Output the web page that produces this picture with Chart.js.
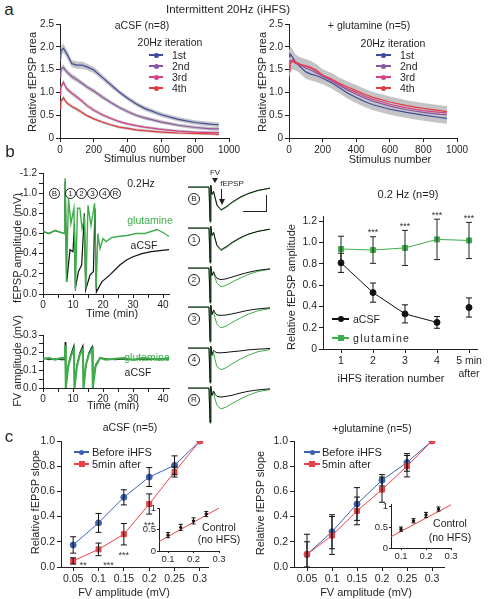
<!DOCTYPE html>
<html><head><meta charset="utf-8">
<script src="https://cdn.jsdelivr.net/npm/chart.js@4.4.0/dist/chart.umd.min.js"></script>
<style>
html,body{margin:0;padding:0;background:#fff;overflow:hidden;}
#root{position:relative;width:488px;height:599px;overflow:hidden;font-family:"Liberation Sans",Arial,sans-serif;color:#222;background:#fff;}
canvas{position:absolute;}
.t{position:absolute;white-space:nowrap;font-weight:normal;text-align:center;}
.circ{position:absolute;border:1px solid #222;border-radius:50%;text-align:center;font-size:8px;box-sizing:border-box;}
.ln{position:absolute;}
</style>
</head><body><div id="root"></div>
<script>
// ================= DATA =================
// Panel a : relative fEPSP area vs stimulus number
const stimNumbers = [0, 5, 20, 40, 70, 100, 130, 160, 200, 250, 300, 350, 400, 450, 500, 600, 700, 800, 900, 940];
const iterNames = ['1st', '2nd', '3rd', '4th'];
const aCSF_1st = [1.75, 1.90, 1.97, 1.85, 1.63, 1.60, 1.60, 1.56, 1.49, 1.33, 1.17, 1.01, 0.87, 0.75, 0.65, 0.51, 0.41, 0.34, 0.30, 0.29];
const aCSF_2nd = [1.35, 1.50, 1.55, 1.45, 1.35, 1.28, 1.20, 1.12, 1.03, 0.90, 0.78, 0.67, 0.58, 0.50, 0.44, 0.35, 0.28, 0.23, 0.20, 0.20];
const aCSF_3rd = [0.95, 1.12, 1.22, 1.08, 0.98, 0.90, 0.81, 0.71, 0.61, 0.51, 0.43, 0.36, 0.31, 0.27, 0.24, 0.19, 0.15, 0.13, 0.12, 0.12];
const aCSF_4th = [0.65, 0.80, 0.88, 0.77, 0.69, 0.63, 0.56, 0.49, 0.42, 0.35, 0.29, 0.24, 0.21, 0.18, 0.16, 0.13, 0.11, 0.10, 0.09, 0.08];
const aCSF_sem1 = [0.08, 0.10, 0.10, 0.09, 0.08, 0.08, 0.08, 0.07, 0.07, 0.06, 0.06, 0.05, 0.05, 0.05, 0.05, 0.05, 0.05, 0.05, 0.05, 0.05];
const aCSF_sem2 = [0.06, 0.07, 0.07, 0.06, 0.06, 0.06, 0.05, 0.05, 0.05, 0.05, 0.04, 0.04, 0.04, 0.04, 0.04, 0.04, 0.04, 0.04, 0.04, 0.04];
const aCSF_sem3 = [0.05, 0.06, 0.06, 0.05, 0.05, 0.05, 0.04, 0.04, 0.04, 0.04, 0.03, 0.03, 0.03, 0.03, 0.03, 0.03, 0.03, 0.03, 0.03, 0.03];
const aCSF_sem4 = [0.04, 0.05, 0.05, 0.04, 0.04, 0.04, 0.04, 0.03, 0.03, 0.03, 0.03, 0.03, 0.03, 0.03, 0.03, 0.03, 0.03, 0.03, 0.03, 0.03];
const glu_1st = [1.78, 1.85, 1.78, 1.66, 1.55, 1.45, 1.40, 1.37, 1.31, 1.22, 1.10, 0.98, 0.89, 0.80, 0.73, 0.63, 0.56, 0.50, 0.45, 0.43];
const glu_2nd = [1.55, 1.70, 1.70, 1.64, 1.58, 1.53, 1.49, 1.43, 1.35, 1.26, 1.15, 1.05, 0.96, 0.88, 0.81, 0.70, 0.62, 0.56, 0.52, 0.51];
const glu_3rd = [1.50, 1.66, 1.72, 1.67, 1.61, 1.57, 1.53, 1.47, 1.37, 1.28, 1.18, 1.08, 1.00, 0.92, 0.85, 0.74, 0.66, 0.60, 0.56, 0.55];
const glu_4th = [1.45, 1.62, 1.68, 1.64, 1.61, 1.58, 1.55, 1.49, 1.38, 1.30, 1.20, 1.12, 1.04, 0.96, 0.89, 0.79, 0.71, 0.65, 0.60, 0.58];
const glu_sem = [0.16, 0.17, 0.17, 0.16, 0.15, 0.15, 0.14, 0.14, 0.13, 0.13, 0.12, 0.12, 0.12, 0.12, 0.12, 0.12, 0.12, 0.12, 0.12, 0.12];
const aStimTicks = [0, 200, 400, 600, 800, 1000];
const aAreaTicks = [0, 0.5, 1.0, 1.5, 2.0, 2.5];

// Panel b (left): fEPSP amplitude time course (mV)
const glutTime = [0, 2, 4, 6, 7.2, 7.4, 7.8, 8.5, 9.3, 10.3, 10.8, 11.5, 12.3, 13.0, 13.8, 14.3, 15.0, 16.0, 17.2, 17.7, 18.3, 19.0, 20, 21, 23, 25, 28, 31, 34, 36, 38, 40, 41.5, 42];
const glutAmp = [-0.62, -0.60, -0.63, -0.61, -0.60, -1.15, -0.12, -0.95, -0.70, -0.85, -0.03, -0.85, -0.85, -0.65, -0.75, -0.05, -0.88, -0.68, -0.90, -0.05, -0.60, -0.45, -0.55, -0.52, -0.56, -0.57, -0.58, -0.60, -0.60, -0.62, -0.64, -0.61, -0.58, -0.57];
const acsfTime = [0, 2, 4, 6, 7.2, 7.4, 7.9, 9.0, 10.0, 10.5, 10.8, 11.8, 12.9, 13.8, 14.2, 15.7, 16.8, 17.3, 17.8, 19.6, 22.3, 25.7, 28, 30, 33, 36, 39, 42];
const acsfAmp = [-0.62, -0.60, -0.63, -0.61, -0.60, -1.12, -0.12, -0.44, -0.42, -0.70, -0.06, -0.22, -0.29, -0.80, -0.04, -0.19, -0.22, -0.85, -0.02, -0.12, -0.19, -0.29, -0.34, -0.37, -0.40, -0.42, -0.43, -0.44];
// FV amplitude (mV)
const fvTime = [0, 2, 4, 6, 7.3, 7.4, 7.6, 8.4, 9.3, 10.3, 10.5, 11.3, 12.3, 13.3, 13.5, 14.3, 15.3, 16.4, 16.6, 17.5, 19.0, 21, 24, 27, 30, 33, 36, 39, 42];
const fvGlut = [-0.165, -0.17, -0.16, -0.17, -0.17, -0.24, 0.0, -0.12, -0.18, -0.22, 0.0, -0.12, -0.19, -0.22, 0.0, -0.13, -0.19, -0.22, 0.0, -0.12, -0.17, -0.16, -0.165, -0.17, -0.16, -0.17, -0.165, -0.16, -0.165];
const fvACSF = [-0.17, -0.16, -0.165, -0.16, -0.16, -0.26, 0.0, -0.13, -0.19, -0.24, 0.0, -0.13, -0.20, -0.24, 0.0, -0.13, -0.20, -0.235, 0.0, -0.13, -0.17, -0.165, -0.16, -0.165, -0.16, -0.165, -0.16, -0.165, -0.16];
const bTimeTicks = [0, 5, 10, 15, 20, 25, 30, 35, 40];
const bAmpTicks = [-1.2, -1.1, -1.0, -0.9, -0.8, -0.7, -0.6, -0.5, -0.4, -0.3, -0.2, -0.1, 0];
const bFvTicks = [-0.3, -0.25, -0.2, -0.15, -0.1, -0.05, 0];

// Panel b (middle): example sweeps
const sweepLabels = ['B', '1', '2', '3', '4', 'R'];
const traceTime = [0, 10.5, 11, 11.4, 12, 12.8, 13.5, 14.5, 16.5, 19, 22, 26, 30, 35, 41];
const rowB_aCSF = [0, 0, -0.95, 0.05, -0.20, -0.12, -0.28, -0.50, -0.63, -0.55, -0.42, -0.28, -0.18, -0.09, -0.03];
const rowB_glut = [0, 0, -0.98, 0.05, -0.22, -0.12, -0.30, -0.52, -0.65, -0.57, -0.44, -0.30, -0.19, -0.10, -0.03];
const row1_aCSF = [0, 0, -0.95, 0.05, -0.20, -0.12, -0.28, -0.48, -0.60, -0.52, -0.40, -0.27, -0.17, -0.09, -0.03];
const row1_glut = [0, 0, -0.98, 0.05, -0.22, -0.12, -0.30, -0.50, -0.63, -0.55, -0.42, -0.29, -0.18, -0.09, -0.03];
const row2_aCSF = [0, 0, -0.95, 0.05, -0.20, -0.10, -0.20, -0.29, -0.32, -0.30, -0.25, -0.18, -0.12, -0.06, -0.02];
const row2_glut = [0, 0, -0.98, 0.05, -0.22, -0.12, -0.27, -0.42, -0.52, -0.48, -0.39, -0.28, -0.18, -0.09, -0.03];
const row3_aCSF = [0, 0, -0.95, 0.05, -0.20, -0.08, -0.16, -0.22, -0.23, -0.22, -0.19, -0.14, -0.09, -0.05, -0.02];
const row3_glut = [0, 0, -0.98, 0.05, -0.22, -0.12, -0.30, -0.48, -0.58, -0.53, -0.43, -0.31, -0.20, -0.10, -0.04];
const row4_aCSF = [0, 0, -0.95, 0.05, -0.18, -0.06, -0.10, -0.13, -0.13, -0.12, -0.10, -0.08, -0.05, -0.03, -0.01];
const row4_glut = [0, 0, -0.98, 0.05, -0.22, -0.12, -0.32, -0.52, -0.60, -0.55, -0.44, -0.31, -0.20, -0.10, -0.04];
const rowR_aCSF = [0, 0, -0.95, 0.05, -0.20, -0.08, -0.17, -0.23, -0.25, -0.23, -0.20, -0.14, -0.09, -0.05, -0.02];
const rowR_glut = [0, 0, -0.98, 0.05, -0.22, -0.12, -0.30, -0.48, -0.58, -0.53, -0.43, -0.31, -0.20, -0.10, -0.04];

// Panel b (right): relative fEPSP amplitude per iHFS iteration
const iterX = [1, 2, 3, 4, 5];
const iterLabels = ['1', '2', '3', '4', ['5 min', 'after']];
const relACSF = [0.81, 0.53, 0.33, 0.25, 0.39];
const relACSFErr = [0.09, 0.09, 0.085, 0.055, 0.09];
const relGlut = [0.94, 0.93, 0.95, 1.03, 1.02];
const relGlutErr = [0.12, 0.125, 0.165, 0.19, 0.17];
const relStars = ['', '***', '***', '***', '***'];
const relAmpTicks = [0, 0.2, 0.4, 0.6, 0.8, 1.0, 1.2];

// Panel c: input-output curves
const fvAmp = [0.05, 0.1, 0.15, 0.2, 0.25, 0.3];
const fvLabels = ['0.05', '0.1', '0.15', '0.2', '0.25', '0.3'];
const cACSF_before = [0.175, 0.35, 0.553, 0.714, 0.807, 1.0];
const cACSF_beforeErr = [0.065, 0.075, 0.06, 0.075, 0.075, 0];
const cACSF_after = [0.048, 0.14, 0.26, 0.50, 0.754, 1.0];
const cACSF_afterErr = [0.025, 0.05, 0.085, 0.08, 0.04, 0];
const cACSF_stars = ['**', '***', '***', '***', '', ''];
const cGlu_before = [0.10, 0.28, 0.50, 0.688, 0.83, 1.0];
const cGlu_beforeErr = [0.16, 0.135, 0.13, 0.045, 0.07, 0];
const cGlu_after = [0.10, 0.25, 0.445, 0.614, 0.80, 1.0];
const cGlu_afterErr = [0.10, 0.15, 0.11, 0.10, 0.085, 0];
const slopeTicks = [0, 0.2, 0.4, 0.6, 0.8, 1.0];
// insets: control (no HFS)
const ctrlFv = [0.1, 0.15, 0.2, 0.25];
const ctrlACSF = [0.37, 0.55, 0.70, 0.86];
const ctrlACSFErr = [0.06, 0.07, 0.07, 0.06];
const ctrlGlu = [0.45, 0.65, 0.79, 0.93];
const ctrlGluErr = [0.05, 0.05, 0.06, 0.05];
const ctrlFitFv = [0.065, 0.3];
const ctrlFitACSF = [0.22, 1.0];
const ctrlFitFvGlu = [0.06, 0.3];
const ctrlFitGlu = [0.27, 1.03];
const insetXTicks = [0.1, 0.2, 0.3];
const insetYTicks = [0, 0.5, 1];

// ================= HELPERS =================
const root = document.getElementById('root');
const INK = '#231f20';
const COL = { c1: '#3f4b9b', c2: '#8b559f', c3: '#d6438b', c4: '#e53b3f', green: '#3dae49', black: '#111111', blue: '#3a62b0', red: '#e8434a', band: '#c4c4c6' };
Chart.defaults.font.family = '"Liberation Sans", Arial, sans-serif';
Chart.defaults.color = INK;

const xy = (xs, ys) => xs.map((x, i) => ({ x: x, y: ys[i] }));

const errPlugin = {
  id: 'errbars',
  afterDatasetsDraw(chart) {
    const ctx = chart.ctx, ca = chart.chartArea;
    chart.data.datasets.forEach((ds, di) => {
      const meta = chart.getDatasetMeta(di);
      const ys = chart.scales[meta.yAxisID];
      if (ds.err) {
        ctx.save();
        ctx.beginPath(); ctx.rect(ca.left - 10, ca.top - 3, ca.right - ca.left + 20, ca.bottom - ca.top + 3); ctx.clip();
        ctx.strokeStyle = ds.errColor || INK; ctx.lineWidth = ds.errWidth || 1;
        meta.data.forEach((pt, i) => {
          const e = ds.err[i]; if (!e) return;
          const v = ds.data[i].y;
          const y1 = ys.getPixelForValue(v + e), y2 = ys.getPixelForValue(v - e);
          const x = pt.x, c = ds.errCap || 3;
          ctx.beginPath();
          ctx.moveTo(x, y1); ctx.lineTo(x, y2);
          ctx.moveTo(x - c, y1); ctx.lineTo(x + c, y1);
          ctx.moveTo(x - c, y2); ctx.lineTo(x + c, y2);
          ctx.stroke();
        });
        ctx.restore();
      }
      if (ds.stars) {
        ctx.save();
        ctx.fillStyle = '#333'; ctx.font = '9px "Liberation Sans", Arial, sans-serif';
        ctx.textAlign = 'center'; ctx.textBaseline = 'middle';
        meta.data.forEach((pt, i) => {
          const s = ds.stars[i]; if (!s) return;
          const v = ds.data[i].y, e = (ds.err && ds.err[i]) || 0;
          let x = pt.x, y;
          if (ds.starPos === 'above') { y = ys.getPixelForValue(v + e) - 4; }
          else {
            y = ys.getPixelForValue(v - e) + 11;
            if (y > ca.bottom - 1) { x += 10; y = ca.bottom - 1; }
          }
          ctx.fillText(s, x, y);
        });
        ctx.restore();
      }
    });
  }
};

function axis(pos, o) {
  const horiz = pos === 'bottom';
  return {
    type: 'linear', position: pos, min: o.min, max: o.max, reverse: !!o.reverse, display: o.display !== false,
    afterFit: horiz ? (s => { s.height = o.size; s.paddingLeft = 0; s.paddingRight = 0; })
                    : (s => { s.width = o.size; s.paddingTop = 0; s.paddingBottom = 0; }),
    afterBuildTicks: o.ticks ? (s => { s.ticks = o.ticks.map(v => ({ value: v })); }) : undefined,
    ticks: { autoSkip: false, maxRotation: 0, minRotation: 0, padding: o.pad !== undefined ? o.pad : 2,
             font: { size: o.fs || 10 }, color: INK, callback: o.fmt },
    grid: { display: true, drawOnChartArea: false, drawTicks: true, tickLength: o.tl !== undefined ? o.tl : 4, color: INK, lineWidth: 1 },
    border: { display: true, color: INK, width: 1 }
  };
}

function mk(L, T, Wc, Hc, o) {
  const cv = document.createElement('canvas');
  cv.width = Wc; cv.height = Hc;
  cv.style.left = L + 'px'; cv.style.top = T + 'px';
  cv.style.width = Wc + 'px'; cv.style.height = Hc + 'px';
  root.appendChild(cv);
  return new Chart(cv, {
    type: 'line',
    data: { datasets: o.datasets },
    options: {
      responsive: false, maintainAspectRatio: false, devicePixelRatio: 1, animation: false,
      layout: { padding: { top: o.pt || 0, right: o.pr || 0, left: 0, bottom: 0 } },
      plugins: { legend: { display: false }, tooltip: { enabled: false } },
      elements: { line: { tension: 0 } },
      scales: o.scales
    },
    plugins: [errPlugin]
  });
}

// text placed with whole-pixel boxes so glyphs stay crisp
function txt(s, x, y, o = {}) {
  const fs = o.fs || 10.5;
  const lh = 2 * Math.round(fs * 0.6);
  const d = document.createElement('div');
  d.className = 't'; d.textContent = s;
  d.style.fontSize = fs + 'px';
  d.style.lineHeight = lh + 'px';
  d.style.height = lh + 'px';
  d.style.color = o.color || INK;
  if (o.ls) d.style.letterSpacing = o.ls + 'px';
  d.style.left = '0px'; d.style.top = '0px';
  root.appendChild(d);
  let w = Math.ceil(d.getBoundingClientRect().width);
  if (w % 2) w += 1;
  d.style.width = w + 'px';
  if (o.align === 'left') {
    d.style.textAlign = 'left';
    d.style.left = Math.round(x) + 'px';
  } else {
    d.style.left = Math.round(x - w / 2) + 'px';
  }
  d.style.top = Math.round(y - lh / 2) + 'px';
  if (o.rot) { d.style.transformOrigin = '50% 50%'; d.style.transform = 'rotate(-90deg)'; }
}
function box(x, y, w, h, css) {
  const d = document.createElement('div'); d.className = 'ln';
  d.style.left = x + 'px'; d.style.top = y + 'px'; d.style.width = w + 'px'; d.style.height = h + 'px';
  Object.assign(d.style, css || {});
  root.appendChild(d); return d;
}
function legendMark(x1, x2, y, color, shape, size) {
  box(x1, y - 0.6, x2 - x1, 1.3, { background: color });
  const s = size || 5, cx = (x1 + x2) / 2;
  box(cx - s / 2, y - s / 2, s, s, { background: color, borderRadius: shape === 'circle' ? '50%' : '0' });
}
function circ(label, cx, cy, d) {
  const e = document.createElement('div'); e.className = 'circ'; e.textContent = label;
  e.style.left = Math.round(cx - d / 2) + 'px'; e.style.top = Math.round(cy - d / 2) + 'px';
  e.style.width = d + 'px'; e.style.height = d + 'px'; e.style.lineHeight = (d - 2) + 'px';
  root.appendChild(e);
}

function bandSets(xs, mean, sem, color) {
  return [
    { data: xy(xs, mean.map((m, i) => m + sem[i])), fill: '+1', backgroundColor: color, borderWidth: 0, pointRadius: 0, order: 5 },
    { data: xy(xs, mean.map((m, i) => m - sem[i])), fill: false, borderWidth: 0, pointRadius: 0, order: 5 }
  ];
}
function lineSet(xs, ys, color, w) {
  return { data: xy(xs, ys), borderColor: color, borderWidth: w || 1.2, pointRadius: 0, fill: false, order: 1 };
}

// ================= PANEL a =================
const fmtArea = v => (v === 0 ? '0' : v.toFixed(1));
const aLeftSeries = [[aCSF_1st, aCSF_sem1, COL.c1], [aCSF_2nd, aCSF_sem2, COL.c2], [aCSF_3rd, aCSF_sem3, COL.c3], [aCSF_4th, aCSF_sem4, COL.c4]];
const aRightSeries = [[glu_1st, glu_sem, COL.c1], [glu_2nd, glu_sem, COL.c2], [glu_3rd, glu_sem, COL.c3], [glu_4th, glu_sem, COL.c4]];
function aDatasets(series) {
  const bands = [], lines = [];
  series.forEach(([m, s, c]) => { bands.push(...bandSets(stimNumbers, m, s, COL.band)); });
  series.slice().reverse().forEach(([m, s, c]) => { lines.push(lineSet(stimNumbers, m, c, 1.2)); });
  return bands.concat(lines);
}
mk(26, 14, 216, 151, {
  pt: 10, pr: 13, datasets: aDatasets(aLeftSeries),
  scales: { x: axis('bottom', { min: 0, max: 1000, ticks: aStimTicks, size: 27, fmt: v => String(v) }),
            y: axis('left', { min: 0, max: 2.5, ticks: aAreaTicks, size: 34, fmt: fmtArea }) }
});
mk(255, 14, 215, 151, {
  pt: 10, pr: 13, datasets: aDatasets(aRightSeries),
  scales: { x: axis('bottom', { min: 0, max: 1000, ticks: aStimTicks, size: 27, fmt: v => String(v) }),
            y: axis('left', { min: 0, max: 2.5, ticks: aAreaTicks, size: 34, fmt: fmtArea }) }
});

// ================= PANEL b left =================
const fmtEven = v => (Math.abs(Math.round(v * 10)) % 2 === 0 ? (Math.abs(v) < 1e-9 ? '0.0' : v.toFixed(1)) : '');
const fmtTen = v => (v % 10 === 0 ? String(v) : '');
mk(10, 163, 167, 155, {
  pt: 10, pr: 8,
  datasets: [ lineSet(glutTime, glutAmp, COL.green, 1.4), lineSet(acsfTime, acsfAmp, COL.black, 1.2) ],
  scales: { x: axis('bottom', { min: 0, max: 42, ticks: bTimeTicks, size: 24, pad: 1, fmt: fmtTen }),
            y: axis('left', { min: -1.2, max: 0, reverse: true, ticks: bAmpTicks, size: 33, fmt: fmtEven }) }
});
const fmtFv = v => (Math.abs(Math.round(v * 100)) % 10 === 0 ? (Math.abs(v) < 1e-9 ? '0.0' : v.toFixed(1)) : '');
mk(10, 325, 167, 86, {
  pt: 10, pr: 8,
  datasets: [ lineSet(fvTime, fvGlut, COL.green, 2), lineSet(fvTime, fvACSF, COL.black, 1.1) ],
  scales: { x: axis('bottom', { min: 0, max: 42, ticks: bTimeTicks, size: 23, pad: 1, fmt: fmtTen }),
            y: axis('left', { min: -0.3, max: 0, reverse: true, ticks: bFvTicks, size: 33, fmt: fmtFv }) }
});

// ================= PANEL b middle: sweeps =================
const sweepRows = [[rowB_aCSF, rowB_glut], [row1_aCSF, row1_glut], [row2_aCSF, row2_glut], [row3_aCSF, row3_glut], [row4_aCSF, row4_glut], [rowR_aCSF, rowR_glut]];
const sweepTops = [181, 222, 262, 301, 342, 382];
sweepRows.forEach(([blk, grn], r) => {
  mk(188, sweepTops[r], 82, 42, {
    datasets: [ lineSet(traceTime, blk, COL.black, 1), lineSet(traceTime, grn, COL.green, 1) ],
    scales: { x: { type: 'linear', display: false, min: 0, max: 41 }, y: { type: 'linear', display: false, min: -1.0, max: 0.17 } }
  });
  circ(sweepLabels[r], 194, sweepTops[r] + 18, 12);
});

// ================= PANEL b right =================
mk(284, 200, 203, 185, {
  pt: 16, pr: 10,
  datasets: [
    { data: xy(iterX, relGlut), err: relGlutErr, errColor: '#222', stars: relStars, starPos: 'above',
      borderColor: COL.green, backgroundColor: COL.green, borderWidth: 1, pointStyle: 'rect', pointRadius: 3.5, order: 1 },
    { data: xy(iterX, relACSF), err: relACSFErr, errColor: '#111',
      borderColor: COL.black, backgroundColor: COL.black, borderWidth: 1, pointRadius: 3, order: 2,
      segment: { borderColor: c => (c.p1DataIndex === 4 ? 'rgba(0,0,0,0)' : COL.black) } }
  ],
  scales: { x: axis('bottom', { min: 0.4375, max: 5.25, ticks: iterX, size: 36, fs: 10.5, fmt: (v, i) => iterLabels[i] }),
            y: axis('left', { min: 0, max: 1.25, ticks: relAmpTicks, size: 39, fs: 10.5, fmt: fmtArea }) }
});

// ================= PANEL c =================
const fmtSlope = v => v.toFixed(1);
mk(28, 431, 190, 168, {
  pt: 10, pr: 10,
  datasets: [
    { data: xy(fvAmp, cACSF_before), err: cACSF_beforeErr, errColor: '#111', borderColor: COL.blue, backgroundColor: COL.blue, borderWidth: 1, pointRadius: 3, order: 2 },
    { data: xy(fvAmp, cACSF_after), err: cACSF_afterErr, errColor: '#111', stars: cACSF_stars, starPos: 'below', borderColor: COL.red, backgroundColor: COL.red, borderWidth: 1, pointStyle: 'rect', pointRadius: 3.5, order: 1 }
  ],
  scales: { x: axis('bottom', { min: 0.026, max: 0.316, ticks: fvAmp, size: 32, fs: 10.5, fmt: (v, i) => fvLabels[i] }),
            y: axis('left', { min: 0, max: 1.0, ticks: slopeTicks, size: 33, fs: 10.5, fmt: fmtSlope }) }
});
mk(130, 498, 97, 64, {
  pt: 10, pr: 8,
  datasets: [
    { data: xy(ctrlFv, ctrlACSF), err: ctrlACSFErr, errColor: '#111', errCap: 2, showLine: false, borderColor: '#111', backgroundColor: '#111', pointRadius: 1.2, order: 1 },
    { data: xy(ctrlFitFv, ctrlFitACSF), borderColor: COL.red, borderWidth: 1, pointRadius: 0, order: 2 }
  ],
  scales: { x: axis('bottom', { min: 0.0646, max: 0.3, ticks: insetXTicks, size: 11, fs: 9.5, tl: 2, pad: 1, fmt: v => String(v) }),
            y: axis('left', { min: 0, max: 1.0, ticks: insetYTicks, size: 29, fs: 9.5, tl: 2, pad: 1, fmt: v => String(v) }) }
});
mk(252, 431, 202, 168, {
  pt: 10, pr: 10,
  datasets: [
    { data: xy(fvAmp, cGlu_before), err: cGlu_beforeErr, errColor: '#111', borderColor: COL.blue, backgroundColor: COL.blue, borderWidth: 1, pointRadius: 3, order: 2 },
    { data: xy(fvAmp, cGlu_after), err: cGlu_afterErr, errColor: '#111', borderColor: COL.red, backgroundColor: COL.red, borderWidth: 1, pointStyle: 'rect', pointRadius: 3.5, order: 1 }
  ],
  scales: { x: axis('bottom', { min: 0.024, max: 0.324, ticks: fvAmp, size: 32, fs: 10.5, fmt: (v, i) => fvLabels[i] }),
            y: axis('left', { min: 0, max: 1.0, ticks: slopeTicks, size: 42, fs: 10.5, fmt: fmtSlope }) }
});
mk(362, 494, 97, 65, {
  pt: 10, pr: 8,
  datasets: [
    { data: xy(ctrlFv, ctrlGlu), err: ctrlGluErr, errColor: '#111', errCap: 2, showLine: false, borderColor: '#111', backgroundColor: '#111', pointRadius: 1.2, order: 1 },
    { data: xy(ctrlFitFvGlu, ctrlFitGlu), borderColor: COL.red, borderWidth: 1, pointRadius: 0, order: 2 }
  ],
  scales: { x: axis('bottom', { min: 0.06, max: 0.3, ticks: insetXTicks, size: 11, fs: 9.5, tl: 2, pad: 1, fmt: v => String(v) }),
            y: axis('left', { min: 0, max: 1.05, ticks: insetYTicks, size: 29, fs: 9.5, tl: 2, pad: 1, fmt: v => String(v) }) }
});

// ================= TEXT / ANNOTATIONS =================
// panel a
txt('a', 9, 10, { fs: 17 });
txt('Intermittent 20Hz (iHFS)', 228, 9, { fs: 11.5 });
txt('Relative fEPSP area', 32, 82, { fs: 11, rot: true });
txt('Relative fEPSP area', 262, 82, { fs: 11, rot: true });
txt('Stimulus number', 145, 158, { fs: 11 });
txt('Stimulus number', 390, 159, { fs: 11 });
txt('aCSF (n=8)', 142, 25);
txt('+ glutamine (n=5)', 369, 25);
txt('20Hz iteration', 170, 42);
txt('20Hz iteration', 393, 43);
const legY = [55, 66, 77, 88];
const legCols = [COL.c1, COL.c2, COL.c3, COL.c4];
iterNames.forEach((n, i) => {
  legendMark(149, 163, legY[i], legCols[i], 'circle', 5);
  txt(n, 172, legY[i], { align: 'left' });
  legendMark(376, 391, legY[i], legCols[i], 'circle', 5);
  txt(n, 400, legY[i], { align: 'left' });
});

// panel b
txt('b', 10, 152, { fs: 17 });
txt('0.2Hz', 141, 183);
const topCircX = [54, 70, 81, 92, 104, 115];
sweepLabels.forEach((l, i) => circ(l, topCircX[i], 193, 11));
txt('glutamine', 150, 220, { color: COL.green });
txt('aCSF', 144, 245);
txt('glutamine', 147, 357, { color: COL.green });
txt('aCSF', 138, 372);
txt('fEPSP amplitude (mV)', 17, 248, { fs: 11, rot: true });
txt('Time (min)', 112, 313, { fs: 11 });
txt('FV amplitude (mV)', 17, 361, { fs: 11, rot: true });
txt('Time (min)', 113, 405, { fs: 11 });
// sweep annotations
txt('FV', 215, 173, { fs: 8 });
box(212, 178, 0, 0, { borderLeft: '3px solid transparent', borderRight: '3px solid transparent', borderTop: '5px solid ' + INK });
txt('fEPSP', 232, 184, { fs: 8 });
box(221, 189, 1, 11, { background: INK });
box(218.5, 199, 0, 0, { borderLeft: '3px solid transparent', borderRight: '3px solid transparent', borderTop: '6px solid ' + INK });
box(243, 195, 24, 17, { borderRight: '1px solid ' + INK, borderBottom: '1px solid ' + INK, boxSizing: 'border-box' });
// panel b right
txt('0.2 Hz (n=9)', 408, 194, { fs: 11 });
txt('Relative fEPSP amplitude', 291, 287, { fs: 11, rot: true });
txt('iHFS iteration number', 391, 378, { fs: 11 });
legendMark(332, 349, 319, COL.black, 'circle', 6);
txt('aCSF', 353, 319, { align: 'left' });
legendMark(332, 349, 338, COL.green, 'square', 6);
txt('glutamine', 353, 338, { align: 'left', ls: 1.3 });

// panel c
txt('c', 9, 437, { fs: 17 });
txt('aCSF (n=5)', 130, 427);
txt('+glutamine (n=5)', 372, 428);
txt('Relative fEPSP slope', 35, 502, { fs: 11, rot: true });
txt('Relative fEPSP slope', 260, 503, { fs: 11, rot: true });
txt('FV amplitude (mV)', 124, 592, { fs: 11 });
txt('FV amplitude (mV)', 366, 592, { fs: 11 });
legendMark(74, 89, 452, COL.blue, 'circle', 5);
txt('Before iHFS', 92, 452, { align: 'left', fs: 11 });
legendMark(74, 89, 464, COL.red, 'square', 6);
txt('5min after', 92, 464, { align: 'left', fs: 11 });
legendMark(304, 320, 452, COL.blue, 'circle', 5);
txt('Before iHFS', 322, 452, { align: 'left', fs: 11 });
legendMark(304, 320, 464, COL.red, 'square', 6);
txt('5min after', 322, 464, { align: 'left', fs: 11 });
txt('Control', 219, 527);
txt('(no HFS)', 219, 539);
txt('Control', 450, 523);
txt('(no HFS)', 450, 537);
</script>
</body></html>
